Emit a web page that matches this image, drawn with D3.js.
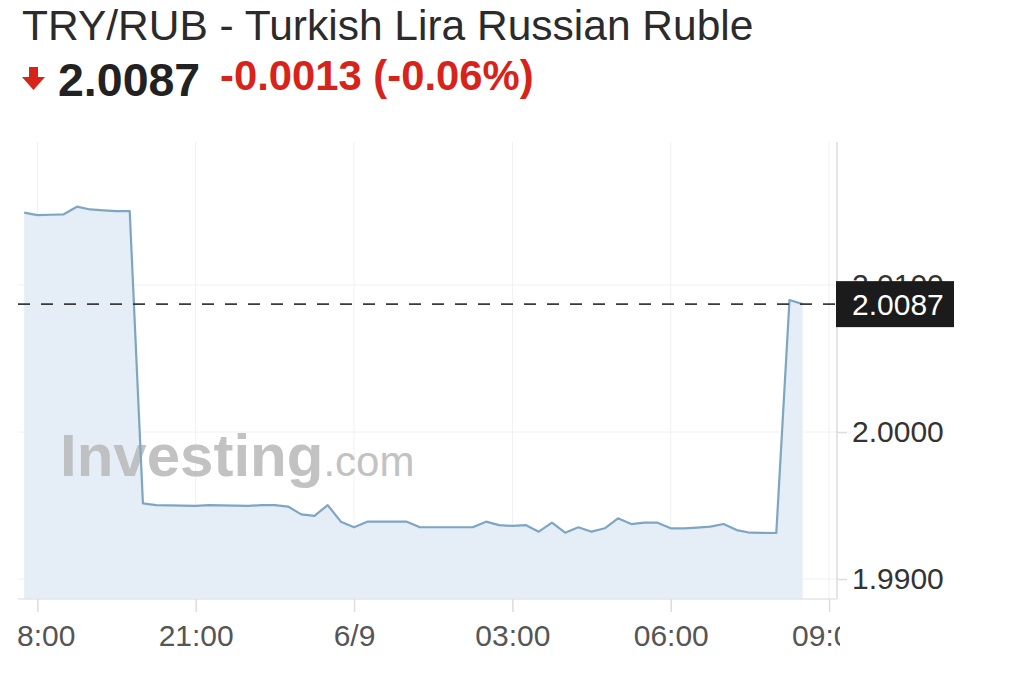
<!DOCTYPE html>
<html>
<head>
<meta charset="utf-8">
<script src="https://cdn.jsdelivr.net/npm/d3@7"></script>
<style>
  html, body { margin: 0; padding: 0; background: #fff; }
  svg { display: block; font-family: "Liberation Sans", Arial, Helvetica, sans-serif; }
</style>
</head>
<body>
<svg id="chart" width="1018" height="693"></svg>
<script>
// ---- Data ----
const titleText = "TRY/RUB - Turkish Lira Russian Ruble";
const lastPrice = 2.0087;
const changeText = "-0.0013 (-0.06%)";

const times = [
  "2023-06-08 17:45","2023-06-08 18:00","2023-06-08 18:15","2023-06-08 18:30","2023-06-08 18:45",
  "2023-06-08 19:00","2023-06-08 19:15","2023-06-08 19:30","2023-06-08 19:45","2023-06-08 20:00",
  "2023-06-08 20:15","2023-06-08 20:30","2023-06-08 20:45","2023-06-08 21:00","2023-06-08 21:15",
  "2023-06-08 21:30","2023-06-08 21:45","2023-06-08 22:00","2023-06-08 22:15","2023-06-08 22:30",
  "2023-06-08 22:45","2023-06-08 23:00","2023-06-08 23:15","2023-06-08 23:30","2023-06-08 23:45",
  "2023-06-09 00:00","2023-06-09 00:15","2023-06-09 00:30","2023-06-09 00:45","2023-06-09 01:00",
  "2023-06-09 01:15","2023-06-09 01:30","2023-06-09 01:45","2023-06-09 02:00","2023-06-09 02:15",
  "2023-06-09 02:30","2023-06-09 02:45","2023-06-09 03:00","2023-06-09 03:15","2023-06-09 03:30",
  "2023-06-09 03:45","2023-06-09 04:00","2023-06-09 04:15","2023-06-09 04:30","2023-06-09 04:45",
  "2023-06-09 05:00","2023-06-09 05:15","2023-06-09 05:30","2023-06-09 05:45","2023-06-09 06:00",
  "2023-06-09 06:15","2023-06-09 06:30","2023-06-09 06:45","2023-06-09 07:00","2023-06-09 07:15",
  "2023-06-09 07:30","2023-06-09 07:45","2023-06-09 08:00","2023-06-09 08:15","2023-06-09 08:30"
];
const prices = [
  2.01493,2.01476,2.01478,2.01481,2.01533,
  2.01514,2.01508,2.01503,2.01503,1.99515,
  1.99503,1.99501,1.99499,1.99497,1.99503,
  1.99501,1.99499,1.99497,1.99503,1.99503,
  1.99493,1.99440,1.99429,1.99503,1.99390,
  1.99352,1.99390,1.99390,1.99390,1.99390,
  1.99352,1.99352,1.99352,1.99352,1.99352,
  1.99390,1.99367,1.99361,1.99367,1.99322,
  1.99383,1.99315,1.99352,1.99322,1.99345,
  1.99413,1.99374,1.99383,1.99383,1.99345,
  1.99345,1.99350,1.99356,1.99374,1.99333,
  1.99315,1.99314,1.99313,2.00898,2.00870
];

const xTickTimes = ["2023-06-08 18:00","2023-06-08 21:00","2023-06-09 00:00","2023-06-09 03:00","2023-06-09 06:00","2023-06-09 09:00"];
const xTickLabels = ["18:00","21:00","6/9","03:00","06:00","09:00"];
const yTickValues = [1.99, 2.00, 2.01];
const yTickLabels = ["1.9900","2.0000","2.0100"];

const xDomain = ["2023-06-08 17:38","2023-06-09 09:09"];
const yDomain = [1.98864, 2.01973];

// ---- Setup ----
const parse = d3.timeParse("%Y-%m-%d %H:%M");
const data = times.map((t, i) => ({ t: parse(t), v: prices[i] }));

const svg = d3.select("#chart");
const plot = { left: 18, right: 837, top: 142, bottom: 599 };

const x = d3.scaleTime().domain(xDomain.map(parse)).range([plot.left, plot.right]);
const y = d3.scaleLinear().domain(yDomain).range([plot.bottom, plot.top]);

// ---- Header ----
svg.append("text")
  .attr("x", 22).attr("y", 40)
  .attr("font-size", 42.5).attr("fill", "#2b2b2b")
  .text(titleText);

// down arrow
svg.append("path")
  .attr("d", "M29,67 L38,67 L38,77 L45,77 L33.5,90 L22,77 L29,77 Z")
  .attr("fill", "#d8231a");

svg.append("text")
  .attr("x", 58).attr("y", 96)
  .attr("font-size", 46.5).attr("font-weight", "bold").attr("fill", "#222")
  .text(d3.format(".4f")(lastPrice));

svg.append("text")
  .attr("x", 220).attr("y", 90)
  .attr("font-size", 41.8).attr("font-weight", "bold").attr("fill", "#d8231a")
  .text(changeText);

// ---- Grid ----
const grid = svg.append("g");
grid.selectAll("line.vg").data(xTickTimes.map(parse)).join("line")
  .attr("x1", d => x(d)).attr("x2", d => x(d))
  .attr("y1", plot.top).attr("y2", plot.bottom)
  .attr("stroke", "#f0f0f0").attr("stroke-width", 1);
grid.selectAll("line.hg").data(yTickValues).join("line")
  .attr("x1", plot.left).attr("x2", plot.right)
  .attr("y1", d => y(d)).attr("y2", d => y(d))
  .attr("stroke", "#f0f0f0").attr("stroke-width", 1);

// ---- Area ----
const area = d3.area().x(d => x(d.t)).y0(plot.bottom).y1(d => y(d.v));
svg.append("path").datum(data)
  .attr("d", area)
  .attr("fill", "#e5eef7");

// ---- Watermark ----
const wm = svg.append("text")
  .attr("x", 60).attr("y", 476)
  .attr("fill", "#b8b8b8").attr("opacity", 0.85);
wm.append("tspan").attr("font-size", 60).attr("font-weight", "bold").text("Investing");
wm.append("tspan").attr("font-size", 42).attr("font-weight", "normal").text(".com");

// ---- Line ----
const line = d3.line().x(d => x(d.t)).y(d => y(d.v));
svg.append("path").datum(data)
  .attr("d", line)
  .attr("fill", "none")
  .attr("stroke", "#7ea6c3")
  .attr("stroke-width", 2.2)
  .attr("stroke-linejoin", "round");

// ---- Axes frame ----
svg.append("line")
  .attr("x1", plot.right).attr("x2", plot.right)
  .attr("y1", plot.top).attr("y2", plot.bottom)
  .attr("stroke", "#dddddd").attr("stroke-width", 1.5);
svg.append("line")
  .attr("x1", plot.left).attr("x2", plot.right)
  .attr("y1", plot.bottom).attr("y2", plot.bottom)
  .attr("stroke", "#e2e6ea").attr("stroke-width", 1.5);

// ---- X axis ----
svg.append("defs").append("clipPath").attr("id", "xclip")
  .append("rect").attr("x", 18).attr("y", 0).attr("width", 822).attr("height", 90);

const xAxis = d3.axisBottom(x)
  .tickValues(xTickTimes.map(parse))
  .tickFormat((d, i) => xTickLabels[i])
  .tickSize(13).tickPadding(13);
const gx = svg.append("g")
  .attr("transform", `translate(0,${plot.bottom})`)
  .attr("clip-path", "url(#xclip)")
  .call(xAxis);
gx.select(".domain").remove();
gx.selectAll(".tick line").attr("stroke", "#dddddd").attr("stroke-width", 1.5);
gx.selectAll(".tick text")
  .attr("font-size", 30).attr("fill", "#555")
  .attr("font-family", "Liberation Sans, Arial, sans-serif");

// ---- Y axis (right) ----
const yAxis = d3.axisRight(y)
  .tickValues(yTickValues)
  .tickFormat((d, i) => yTickLabels[i])
  .tickSize(10).tickPadding(5);
const gy = svg.append("g")
  .attr("transform", `translate(${plot.right},0)`)
  .call(yAxis);
gy.select(".domain").remove();
gy.selectAll(".tick line").attr("stroke", "#dddddd").attr("stroke-width", 1.5);
gy.selectAll(".tick text")
  .attr("font-size", 30).attr("fill", "#333")
  .attr("font-family", "Liberation Sans, Arial, sans-serif");

// ---- Last price line and label ----
svg.append("line")
  .attr("x1", plot.left).attr("x2", plot.right)
  .attr("y1", y(lastPrice)).attr("y2", y(lastPrice))
  .attr("stroke", "#3a3a3a").attr("stroke-width", 1.8)
  .attr("stroke-dasharray", "12,11");

const boxH = 46;
svg.append("rect")
  .attr("x", plot.right - 1).attr("y", y(lastPrice) - boxH / 2)
  .attr("width", 118).attr("height", boxH)
  .attr("fill", "#1b1b1b");
svg.append("text")
  .attr("x", 852).attr("y", y(lastPrice))
  .attr("dy", "0.35em")
  .attr("font-size", 30).attr("fill", "#fff")
  .text(d3.format(".4f")(lastPrice));
</script>
</body>
</html>
